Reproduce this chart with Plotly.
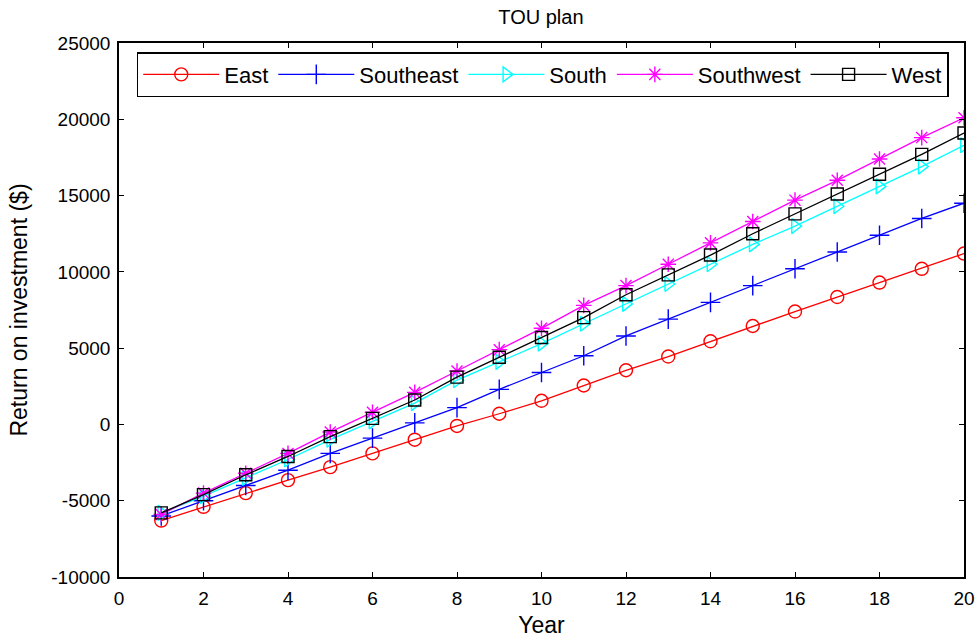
import plotly.graph_objects as go

years = list(range(1, 21))
east = [-6300, -5400, -4500, -3650, -2800, -1900, -1000, -100, 700, 1550,
        2550, 3550, 4450, 5450, 6450, 7400, 8350, 9300, 10200, 11200]
southeast = [-6000, -5000, -4000, -3000, -1900, -900, 100, 1100, 2300, 3400,
             4500, 5800, 6900, 8000, 9100, 10200, 11300, 12400, 13500, 14500]
south = [-5800, -4700, -3500, -2300, -1000, 200, 1400, 2900, 4100, 5300,
         6600, 7900, 9200, 10500, 11800, 13000, 14300, 15600, 16900, 18300]
southwest = [-5900, -4500, -3200, -1900, -500, 800, 2100, 3500, 4900, 6300,
             7800, 9100, 10500, 11900, 13300, 14700, 16000, 17400, 18800, 20100]
west = [-5800, -4600, -3300, -2100, -800, 400, 1600, 3100, 4400, 5700,
        7000, 8500, 9800, 11100, 12500, 13800, 15100, 16400, 17700, 19100]

x_ticks = list(range(0, 21, 2))
y_ticks = [-10000, -5000, 0, 5000, 10000, 15000, 20000, 25000]
y_ticklabels = ["-10000", "-5000", "0", "5000", "10000", "15000", "20000", "25000"]

series = [
    ("East", east, "#ff0000", "circle-open", 13),
    ("Southeast", southeast, "#0000ff", "cross-thin-open", 14),
    ("South", south, "#00ffff", "triangle-right-open", 13),
    ("Southwest", southwest, "#ff00ff", "asterisk-open", 13),
    ("West", west, "#000000", "square-open", 12),
]

fig = go.Figure()
for name, vals, color, sym, size in series:
    fig.add_trace(go.Scatter(
        x=years, y=vals, name=name, mode="lines+markers",
        line=dict(color=color, width=1.3),
        marker=dict(symbol=sym, size=size, color=color, line=dict(color=color, width=1.4)),
    ))

font = "Liberation Sans, Arial, sans-serif"
fig.update_layout(
    width=980, height=639,
    margin=dict(l=119, r=16, t=43, b=62),
    paper_bgcolor="white", plot_bgcolor="white",
    font=dict(family=font, size=19, color="black"),
    title=dict(text="TOU plan", x=0.552, xanchor="center", y=0.973, yanchor="middle",
               font=dict(size=20)),
    showlegend=True,
    legend=dict(
        orientation="h", x=0.021, xanchor="left", y=0.983, yanchor="top",
        bgcolor="white", bordercolor="black", borderwidth=1.5,
        font=dict(size=22), itemwidth=76,
    ),
    xaxis=dict(
        range=[0, 20], tickmode="array", tickvals=x_ticks,
        ticks="inside", ticklen=5, tickwidth=1, tickcolor="black",
        showline=True, linecolor="black", linewidth=1.5, mirror="ticks",
        showgrid=False, zeroline=False, ticklabelstandoff=3, automargin=False,
        title=dict(text="Year", standoff=9),
    ),
    yaxis=dict(
        range=[-10000, 25000], tickmode="array", tickvals=y_ticks, ticktext=y_ticklabels,
        ticks="inside", ticklen=5, tickwidth=1, tickcolor="black",
        showline=True, linecolor="black", linewidth=1.5, mirror="ticks",
        showgrid=False, zeroline=False, ticklabelstandoff=3, automargin=False,
        title=dict(text="Return on investment ($)", standoff=17),
    ),
)

fig.write_html("out.html")
